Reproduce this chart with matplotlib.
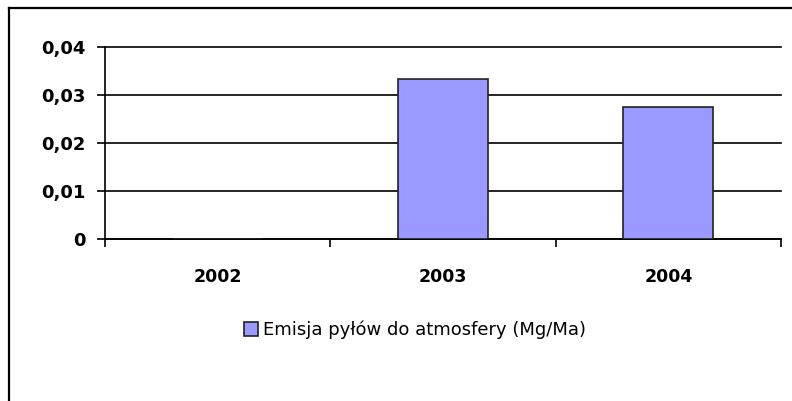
import numpy as np
import matplotlib.pyplot as plt
from matplotlib.lines import Line2D

# data
years = ['2002', '2003', '2004']
emisja = [0.0, 0.0333, 0.0275]
yticks = [0, 0.01, 0.02, 0.03, 0.04]
ytick_labels = ['0', '0,01', '0,02', '0,03', '0,04']
legend_label = 'Emisja pyłów do atmosfery (Mg/Ma)'

W, H = 792, 401
fig = plt.figure(figsize=(W / 100, H / 100), dpi=100)
fig.patch.set_facecolor('white')

# outer frame (only left and top edges show)
fig.add_artist(Line2D([9 / W, 9 / W], [0, 1 - 8 / H], color='black', lw=1.6))
fig.add_artist(Line2D([9 / W, 1], [1 - 8 / H, 1 - 8 / H], color='black', lw=1.6))

ax = fig.add_axes([105 / W, 1 - 239 / H, (781 - 105) / W, (239 - 47) / H])

x = np.arange(len(years))
ax.bar(x, emisja, width=0.4, color='#9999FF', edgecolor='#222222', linewidth=1.2, zorder=3,
       label=legend_label)

ax.set_xlim(-0.5, len(years) - 0.5)
ax.set_ylim(0, 0.04)
ax.set_yticks(yticks)
ax.set_yticklabels(ytick_labels, fontfamily='DejaVu Sans', fontweight='bold', fontsize=13)
ax.set_xticks(x)
ax.set_xticklabels(years, fontfamily='DejaVu Sans', fontweight='bold', fontsize=12.5)
ax.tick_params(axis='x', which='major', length=0, pad=21)
ax.set_xticks(np.arange(len(years) + 1) - 0.5, minor=True)
ax.tick_params(axis='x', which='minor', length=6, width=1.2, direction='out')
ax.tick_params(axis='y', length=6, width=1.2, direction='out', pad=8)

ax.yaxis.grid(True, color='black', lw=1.2, zorder=1)
for gl in ax.get_ygridlines():
    gl.set_clip_on(False)
ax.set_axisbelow(True)
for s in ['top', 'right']:
    ax.spines[s].set_visible(False)
for s in ['left', 'bottom']:
    ax.spines[s].set_linewidth(1.2)

leg = fig.legend(loc='center', bbox_to_anchor=(415 / W, 1 - 330 / H), frameon=False,
                 handlelength=0.75, handleheight=0.75, handletextpad=0.25,
                 prop={'family': 'DejaVu Sans', 'size': 13})

fig.savefig('out.png', dpi=100)
